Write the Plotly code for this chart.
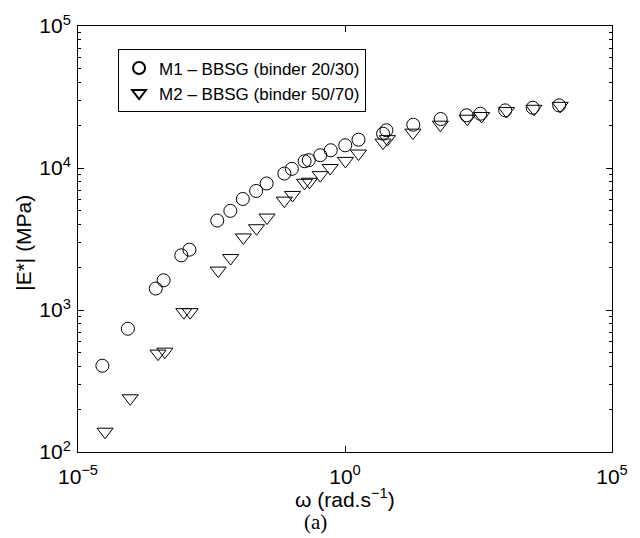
import plotly.graph_objects as go

# M1 - BBSG (binder 20/30)
m1_omega = [2.86e-5, 8.59e-5, 2.86e-4, 4.01e-4, 8.59e-4, 1.22e-3, 4.05e-3, 7.13e-3,
            1.22e-2, 2.17e-2, 3.41e-2, 7.31e-2, 0.101, 0.175, 0.210, 0.344, 0.541,
            1.01, 1.79, 5.16, 5.97, 18.97, 61.9, 188.8, 341.2, 1000, 3273, 10250]
m1_E = [405, 738, 1416, 1620, 2427, 2660, 4266, 4990, 6050, 6890, 7780, 9140, 9860,
        11160, 11350, 12300, 13340, 14450, 15830, 17450, 18440, 20180, 22130, 23500,
        24100, 25460, 26570, 27600]

# M2 - BBSG (binder 50/70)
m2_omega = [3.21e-5, 9.51e-5, 3.15e-4, 4.24e-4, 9.59e-4, 1.26e-3, 4.22e-3, 7.21e-3,
            1.25e-2, 2.20e-2, 3.46e-2, 7.31e-2, 0.104, 0.175, 0.216, 0.344, 0.526,
            1.02, 1.79, 5.16, 6.22, 18.7, 61.1, 194.5, 362.2, 1057, 3459, 10720]
m2_E = [139, 239, 493, 509, 966, 966, 1895, 2322, 3243, 3765, 4477, 5890, 6460,
        7870, 8000, 8910, 10000, 11220, 12640, 15100, 15970, 17740, 20180, 22230,
        23240, 25180, 26120, 27400]

x_tickvals = [1e-5, 1e0, 1e5]
x_ticktext = ["10<sup>−5</sup>", "10<sup>0</sup>", "10<sup>5</sup>"]
y_tickvals = [1e2, 1e3, 1e4, 1e5]
y_ticktext = ["10<sup>2</sup>", "10<sup>3</sup>", "10<sup>4</sup>", "10<sup>5</sup>"]
y_minorvals = [m * 10 ** d for d in (2, 3, 4) for m in range(2, 10)]

FONT = "Liberation Sans, Arial, sans-serif"

fig = go.Figure()
fig.add_trace(go.Scatter(
    x=m1_omega, y=m1_E, mode="markers", name="M1 – BBSG (binder 20/30)",
    marker=dict(symbol="circle-open", size=13, color="black", line=dict(width=1, color="black")),
))
fig.add_trace(go.Scatter(
    x=m2_omega, y=m2_E, mode="markers", name="M2 – BBSG (binder 50/70)",
    marker=dict(symbol="triangle-down-open", size=14, color="black", line=dict(width=1, color="black")),
))

axis_common = dict(
    showline=True, linecolor="black", linewidth=1, mirror="allticks",
    ticks="inside", ticklen=6, tickcolor="black", tickwidth=1,
    showgrid=False, zeroline=False,
    tickfont=dict(family=FONT, size=21, color="black"),
)

fig.update_xaxes(type="log", range=[-5, 5], tickmode="array",
                 tickvals=x_tickvals, ticktext=x_ticktext, ticklabelstandoff=6,
                 **axis_common)
fig.update_yaxes(type="log", range=[2, 5], tickmode="array",
                 tickvals=y_tickvals, ticktext=y_ticktext, ticklabelstandoff=2,
                 minor=dict(tickmode="array", tickvals=y_minorvals, ticks="inside",
                            ticklen=3, tickcolor="black", showgrid=False),
                 **axis_common)

fig.update_layout(
    width=640, height=538,
    margin=dict(l=77.5, r=18.3, t=23.5, b=86.3),
    paper_bgcolor="white", plot_bgcolor="white",
    font=dict(family=FONT, color="black"),
    showlegend=True,
    legend=dict(x=0.075, y=0.945, xanchor="left", yanchor="top",
                bgcolor="white", bordercolor="black", borderwidth=1,
                font=dict(family=FONT, size=17, color="black"),
                tracegroupgap=0, itemsizing="constant"),
    annotations=[
        dict(text="ω (rad.s<sup>−1</sup>)", xref="paper", yref="paper",
             x=0.5, y=-0.108, xanchor="center", yanchor="middle", showarrow=False,
             font=dict(family=FONT, size=21, color="black")),
        dict(text="|E*| (MPa)", xref="paper", yref="paper",
             x=-0.102, y=0.49, xanchor="center", yanchor="middle", showarrow=False,
             textangle=-90, font=dict(family=FONT, size=21, color="black")),
        dict(text="(a)", xref="paper", yref="paper",
             x=(320 - 77.5) / 544.2, y=-0.165, xanchor="center", yanchor="middle",
             showarrow=False,
             font=dict(family="Liberation Serif, Times New Roman, serif", size=21, color="black")),
    ],
)

fig.write_html("out.html")
